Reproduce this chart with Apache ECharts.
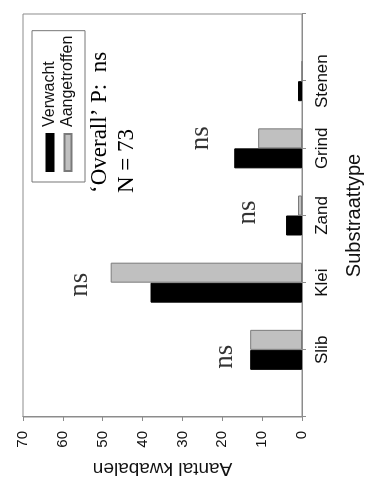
<!DOCTYPE html>
<html>
<head>
<meta charset="utf-8">
<title>Substraattype</title>
<script src="https://cdn.jsdelivr.net/npm/echarts@6/dist/echarts.min.js"></script>
<style>
  html, body { margin: 0; padding: 0; background: #fff; overflow: hidden; }
  #stage { position: absolute; left: 0; top: 0; width: 373px; height: 488px; overflow: hidden; }
  /* The figure is laid out landscape and turned a quarter turn counter-clockwise */
  #chart {
    position: absolute; left: 0; top: 0; width: 488px; height: 373px;
    transform-origin: 0 0;
    transform: translate(0, 488px) rotate(-90deg);
  }
</style>
</head>
<body>
<div id="stage"><div id="chart"></div></div>
<script>
// Substrate categories and counts of lampreys per substrate
const categories = ['Slib', 'Klei', 'Zand', 'Grind', 'Stenen'];
const expected = [13, 38, 4, 17, 1];      // Verwacht
const observed = [13, 48, 1, 11, 0];      // Aangetroffen
const valueTicks = [0, 10, 20, 30, 40, 50, 60, 70];
const nsCategories = ['Slib', 'Klei', 'Zand', 'Grind'];

// one empty slot on either side of the categories
const axisCats = [''].concat(categories, ['']);
const pad = arr => ['-'].concat(arr, ['-']);

const sans = '"Liberation Sans", Arial, sans-serif';
const serif = '"Liberation Serif", "Times New Roman", serif';
const frame = '#8c8c8c';

// label offsets (px) for the "ns" marks above each pair of bars
const nsOffsets = {
  Slib: [-7, -25],
  Klei: [-2, -31],
  Zand: [3, -38],
  Grind: [10, -33]
};

const nsData = nsCategories.map(c => {
  const i = categories.indexOf(c);
  return {
    value: [c, Math.max(expected[i], observed[i])],
    label: { offset: nsOffsets[c] }
  };
});

const chart = echarts.init(document.getElementById('chart'), null, { renderer: 'canvas' });

chart.setOption({
  backgroundColor: '#fff',
  animation: false,
  grid: {
    left: 71, right: 14, top: 23, bottom: 71,
    show: true, borderColor: frame, borderWidth: 1,
    outerBoundsMode: 'none'
  },
  legend: {
    orient: 'vertical',
    left: 306, top: 32,
    padding: [10, 5, 9, 10],
    itemWidth: 37, itemHeight: 7, itemGap: 2,
    borderColor: '#777', borderWidth: 1,
    icon: 'rect',
    textStyle: { fontFamily: sans, fontSize: 16, color: '#111', padding: [0, 0, 0, 2] },
    data: ['Verwacht', 'Aangetroffen']
  },
  xAxis: {
    type: 'category',
    data: axisCats,
    boundaryGap: false,
    name: 'Substraattype',
    nameLocation: 'middle',
    nameGap: 42,
    nameTextStyle: { fontFamily: sans, fontSize: 20, color: '#111' },
    axisLine: { show: true, lineStyle: { color: frame, width: 1 } },
    axisTick: { show: true, length: 4, lineStyle: { color: frame } },
    axisLabel: { interval: 0, margin: 12, fontFamily: sans, fontSize: 17, color: '#111' },
    splitLine: { show: false }
  },
  yAxis: {
    type: 'value',
    min: valueTicks[0],
    max: valueTicks[valueTicks.length - 1],
    interval: valueTicks[1] - valueTicks[0],
    name: 'Aantal kwabalen',
    nameLocation: 'middle',
    nameGap: 40,
    nameRotate: 90,
    nameTextStyle: { fontFamily: sans, fontSize: 19, color: '#111' },
    axisLine: { show: true, lineStyle: { color: frame, width: 1 } },
    axisTick: { show: true, length: 4, lineStyle: { color: frame } },
    axisLabel: { margin: 14, fontFamily: sans, fontSize: 15, color: '#111' },
    splitLine: { show: false }
  },
  series: [
    {
      name: 'Verwacht',
      type: 'bar',
      data: pad(expected),
      barWidth: 20,
      barGap: '0%',
      itemStyle: { color: '#000', borderColor: '#000', borderWidth: 1 }
    },
    {
      name: 'Aangetroffen',
      type: 'bar',
      data: pad(observed),
      barWidth: 20,
      barGap: '0%',
      itemStyle: { color: '#c0c0c0', borderColor: '#7a7a7a', borderWidth: 1 }
    },
    {
      name: 'ns',
      type: 'scatter',
      data: nsData,
      symbolSize: 0,
      silent: true,
      label: {
        show: true,
        position: 'inside',
        formatter: 'ns',
        fontFamily: serif,
        fontSize: 27,
        color: '#000'
      }
    }
  ],
  graphic: [
    {
      type: 'text',
      left: 295,
      top: 86,
      style: {
        text: '\u2018Overall\u2019 P:  ns\nN = 73',
        font: '23px ' + serif,
        lineHeight: 27,
        fill: '#000'
      }
    }
  ]
});
</script>
</body>
</html>
